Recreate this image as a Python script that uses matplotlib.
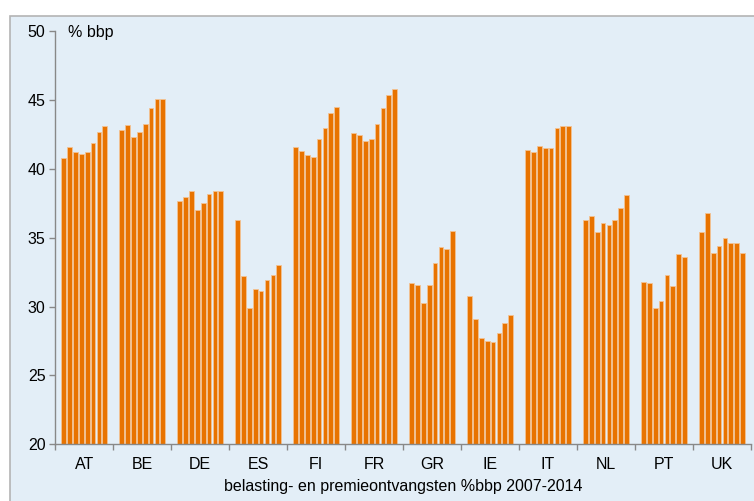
import matplotlib
matplotlib.use("Agg")
import matplotlib.pyplot as plt
import numpy as np
from matplotlib.patches import Rectangle

countries = ["AT", "BE", "DE", "ES", "FI", "FR", "GR", "IE", "IT", "NL", "PT", "UK"]
years = [2007, 2008, 2009, 2010, 2011, 2012, 2013, 2014]
AT = [40.8, 41.6, 41.2, 41.1, 41.2, 41.9, 42.7, 43.1]
BE = [42.8, 43.2, 42.3, 42.7, 43.3, 44.4, 45.1, 45.1]
DE = [37.7, 38.0, 38.4, 37.0, 37.5, 38.2, 38.4, 38.4]
ES = [36.3, 32.2, 29.9, 31.3, 31.1, 31.9, 32.3, 33.0]
FI = [41.6, 41.3, 41.0, 40.9, 42.2, 43.0, 44.1, 44.5]
FR = [42.6, 42.5, 42.0, 42.2, 43.3, 44.4, 45.4, 45.8]
GR = [31.7, 31.6, 30.3, 31.6, 33.2, 34.3, 34.2, 35.5]
IE = [30.8, 29.1, 27.7, 27.5, 27.4, 28.1, 28.8, 29.4]
IT = [41.4, 41.2, 41.7, 41.5, 41.5, 43.0, 43.1, 43.1]
NL = [36.3, 36.6, 35.4, 36.1, 35.9, 36.3, 37.2, 38.1]
PT = [31.8, 31.7, 29.9, 30.4, 32.3, 31.5, 33.8, 33.6]
UK = [35.4, 36.8, 33.9, 34.4, 35.0, 34.6, 34.6, 33.9]
values = [AT, BE, DE, ES, FI, FR, GR, IE, IT, NL, PT, UK]

yticks = [20, 25, 30, 35, 40, 45, 50]

plt.rcParams['font.family'] = ['Liberation Sans', 'DejaVu Sans']

fig = plt.figure(figsize=(7.54, 5.01), dpi=100)
fig.patch.set_facecolor('white')
bg = Rectangle((10 / 754, -0.1), 1.2, 1 - 16 / 501 + 0.1, transform=fig.transFigure,
               facecolor='#E3EEF7', edgecolor='#B4B4B4', linewidth=1.2, zorder=-10)
fig.patches.append(bg)

ax = fig.add_axes([55.3 / 754, 1 - 444.3 / 501, (751 - 55.3) / 754, (444.3 - 31.3) / 501])
ax.set_facecolor('none')
ax.set_zorder(5)

pitch = 0.101
width = 0.081
for gi, vals in enumerate(values):
    x = gi + 0.5 + (np.arange(len(years)) - 3.5) * pitch
    ax.bar(x, np.array(vals) - 20, bottom=20, width=width, color='#E87300',
           edgecolor='#F3C393', linewidth=0.6, zorder=2)

ax.set_xlim(0, 12)
ax.set_ylim(20, 50)
ax.set_yticks(yticks)
ax.set_xticks(np.arange(13))
ax.set_xticklabels([])
ax.set_xticks(np.arange(12) + 0.5, minor=True)
ax.set_xticklabels(countries, minor=True)
ax.tick_params(axis='x', which='major', length=4, color='#888888', width=1)
ax.tick_params(axis='x', which='minor', length=0, labelsize=11.5, pad=9)
ax.tick_params(axis='y', length=4, color='#888888', width=1, labelsize=11.5, pad=3)

for s in ['top', 'right']:
    ax.spines[s].set_visible(False)
for s in ['left', 'bottom']:
    ax.spines[s].set_color('#888888')
    ax.spines[s].set_linewidth(1)

ax.text(0.22, 49.6, '% bbp', fontsize=11.5, ha='left', va='baseline')
ax.set_xlabel('belasting- en premieontvangsten %bbp 2007-2014', fontsize=11.5, labelpad=5)

fig.savefig('out.png', dpi=100, facecolor='white')
